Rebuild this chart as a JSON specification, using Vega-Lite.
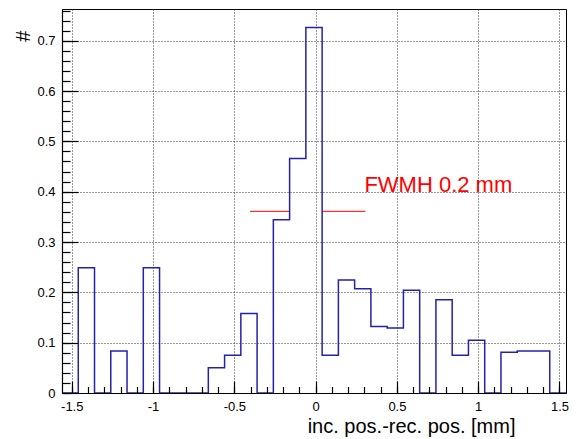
{
  "$schema": "https://vega.github.io/schema/vega-lite/v6.json",
  "width": 504,
  "height": 384,
  "autosize": "none",
  "padding": {"left": 62, "top": 9, "right": 15, "bottom": 46},
  "background": "white",
  "config": {
    "view": {"stroke": "black", "strokeWidth": 1},
    "font": "Liberation Sans"
  },
  "datasets": {
    "hist": [
      {"x": -1.56, "v": 0},
      {"x": -1.46, "v": 0.249},
      {"x": -1.36, "v": 0},
      {"x": -1.26, "v": 0.0835},
      {"x": -1.16, "v": 0},
      {"x": -1.06, "v": 0.249},
      {"x": -0.96, "v": 0},
      {"x": -0.86, "v": 0},
      {"x": -0.76, "v": 0},
      {"x": -0.66, "v": 0.05},
      {"x": -0.56, "v": 0.075},
      {"x": -0.46, "v": 0.158},
      {"x": -0.36, "v": 0},
      {"x": -0.26, "v": 0.344},
      {"x": -0.16, "v": 0.466},
      {"x": -0.06, "v": 0.726},
      {"x": 0.04, "v": 0.075},
      {"x": 0.14, "v": 0.2246},
      {"x": 0.24, "v": 0.207},
      {"x": 0.34, "v": 0.132},
      {"x": 0.44, "v": 0.129},
      {"x": 0.54, "v": 0.204},
      {"x": 0.64, "v": 0},
      {"x": 0.74, "v": 0.1855},
      {"x": 0.84, "v": 0.075},
      {"x": 0.94, "v": 0.1047},
      {"x": 1.04, "v": 0},
      {"x": 1.14, "v": 0.081},
      {"x": 1.24, "v": 0.0835},
      {"x": 1.34, "v": 0.0835},
      {"x": 1.44, "v": 0},
      {"x": 1.54, "v": 0}
    ],
    "fwhm": [{"x1": -0.403, "x2": 0.306, "y": 0.361}],
    "label": [{"x": 0.3, "y": 0.4, "text": "FWMH 0.2 mm"}]
  },
  "resolve": {"axis": {"x": "independent", "y": "independent"}},
  "layer": [
    {
      "data": {"name": "hist"},
      "mark": {"type": "area", "interpolate": "step-after", "color": "white", "opacity": 1},
      "encoding": {
        "x": {"field": "x", "type": "quantitative",
              "scale": {"domain": [-1.56, 1.54], "nice": false, "zero": false},
              "axis": {"orient": "bottom", "values": [-1.5,-1.4,-1.3,-1.2,-1.1,-1,-0.9,-0.8,-0.7,-0.6,-0.5,-0.4,-0.3,-0.2,-0.1,0,0.1,0.2,0.3,0.4,0.5,0.6,0.7,0.8,0.9,1,1.1,1.2,1.3,1.4,1.5],
                       "grid": false, "labels": false, "domain": false, "title": null, "ticks": true,
                       "tickSize": -6.5, "tickColor": "black", "tickWidth": 1.2, "tickOpacity": 1, "zindex": 2}},
        "y": {"field": "v", "type": "quantitative",
              "scale": {"domain": [0, 0.763], "nice": false, "zero": false},
              "axis": {"orient": "left", "values": [0,0.02,0.04,0.06,0.08,0.1,0.12,0.14,0.16,0.18,0.2,0.22,0.24,0.26,0.28,0.3,0.32,0.34,0.36,0.38,0.4,0.42,0.44,0.46,0.48,0.5,0.52,0.54,0.56,0.58,0.6,0.62,0.64,0.66,0.68,0.7,0.72,0.74,0.76],
                       "grid": false, "labels": false, "domain": false, "title": null, "ticks": true,
                       "tickSize": -8, "tickColor": "black", "tickWidth": 1.2, "tickOpacity": 1, "zindex": 2}}
      }
    },
    {
      "data": {"name": "fwhm"},
      "mark": {"type": "rule", "color": "#ff0000", "strokeWidth": 1},
      "encoding": {
        "x": {"field": "x1", "type": "quantitative", "axis": null},
        "x2": {"field": "x2"},
        "y": {"field": "y", "type": "quantitative", "axis": null}
      }
    },
    {
      "data": {"name": "hist"},
      "mark": {"type": "area", "interpolate": "step-after", "color": "white", "opacity": 1},
      "encoding": {
        "x": {"field": "x", "type": "quantitative", "axis": null},
        "y": {"field": "v", "type": "quantitative", "axis": null}
      }
    },
    {
      "data": {"name": "hist"},
      "mark": {"type": "line", "interpolate": "step-after", "color": "#2323a8", "strokeWidth": 1.5},
      "encoding": {
        "x": {"field": "x", "type": "quantitative",
              "axis": {"orient": "bottom", "values": [-1.5,-1,-0.5,0,0.5,1,1.5],
                       "labelExpr": "'' + datum.value", "labelFlush": false,
                       "grid": true, "gridColor": "#333333", "gridDash": [1,2], "gridOpacity": 1, "gridWidth": 1,
                       "domain": true, "domainColor": "black", "domainWidth": 1.2,
                       "tickSize": -12, "tickColor": "black", "tickWidth": 1.2,
                       "labelPadding": 19, "labelFontSize": 13, "labelColor": "black", "labelFont": "Liberation Sans",
                       "title": "inc. pos.-rec. pos. [mm]", "titleFont": "Liberation Sans", "titleFontSize": 20,
                       "titleFontWeight": "normal", "titleColor": "black",
                       "titleAlign": "right", "titleBaseline": "alphabetic", "titleX": 453, "titleY": 39,
                       "zindex": 1}},
        "y": {"field": "v", "type": "quantitative",
              "axis": {"orient": "left", "values": [0,0.1,0.2,0.3,0.4,0.5,0.6,0.7],
                       "labelExpr": "'' + datum.value",
                       "grid": true, "gridColor": "#333333", "gridDash": [1,2], "gridOpacity": 1, "gridWidth": 1,
                       "domain": true, "domainColor": "black", "domainWidth": 1.2,
                       "tickSize": -16, "tickColor": "black", "tickWidth": 1.2,
                       "labelPadding": 23, "labelFontSize": 13, "labelColor": "black", "labelFont": "Liberation Sans",
                       "title": "#", "titleFont": "Liberation Sans", "titleFontSize": 20,
                       "titleFontWeight": "normal", "titleColor": "black",
                       "titleAlign": "right", "titleBaseline": "middle", "titleX": -39, "titleY": 21,
                       "zindex": 1}}
      }
    },
    {
      "data": {"name": "label"},
      "mark": {"type": "text", "color": "#ff0000", "font": "Liberation Sans", "fontSize": 22, "align": "left", "baseline": "alphabetic"},
      "encoding": {
        "x": {"field": "x", "type": "quantitative", "axis": null},
        "y": {"field": "y", "type": "quantitative", "axis": null},
        "text": {"field": "text"}
      }
    }
  ]
}
